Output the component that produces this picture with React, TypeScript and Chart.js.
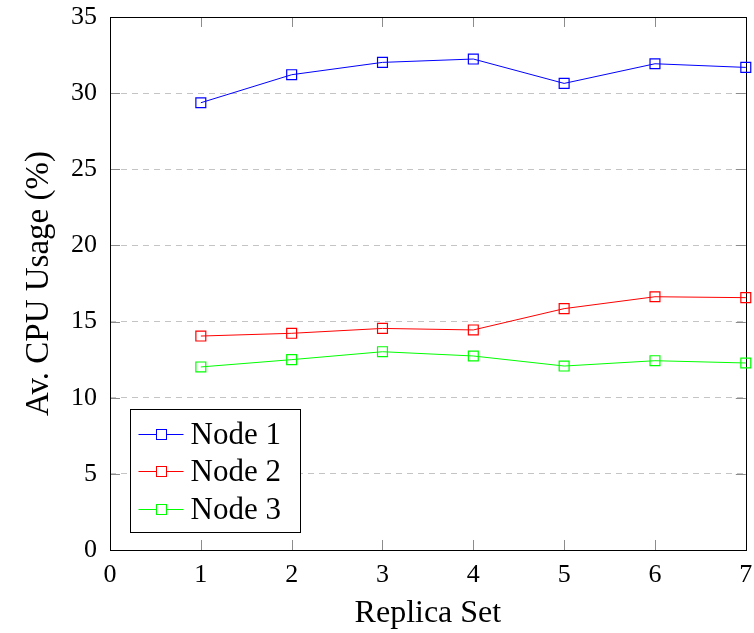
import React, { useEffect, useRef } from "react";
import { Chart, registerables } from "chart.js";

Chart.register(...registerables);

const replicaSets = [1, 2, 3, 4, 5, 6, 7];
const node1 = [29.37, 31.21, 32.02, 32.24, 30.64, 31.93, 31.69];
const node2 = [14.05, 14.23, 14.55, 14.45, 15.85, 16.63, 16.57];
const node3 = [12.02, 12.5, 13.02, 12.74, 12.08, 12.43, 12.28];
const seriesLabels = ["Node 1", "Node 2", "Node 3"];
const seriesColors = ["#0000ff", "#ff0000", "#00ff00"];
const xRange = [0, 7];
const yRange = [0, 35];
const xLabel = "Replica Set";
const yLabel = "Av. CPU Usage (%)";

const FONT = "'Liberation Serif', 'Times New Roman', serif";

const framePlugin = {
  id: "pgfFrame",
  beforeDatasetsDraw(chart: any) {
    const { ctx, chartArea } = chart;
    const { left, right, top, bottom } = chartArea;
    const xs = chart.scales.x;
    const ys = chart.scales.y;
    ctx.save();
    ctx.strokeStyle = "#8c8c8c";
    ctx.lineWidth = 1;
    ctx.setLineDash([]);
    const tl = 10;
    ctx.beginPath();
    xs.ticks.forEach((t: any) => {
      const px = Math.round(xs.getPixelForValue(t.value)) + 0.5;
      if (t.value === xs.min || t.value === xs.max) return;
      ctx.moveTo(px, bottom);
      ctx.lineTo(px, bottom - tl);
      ctx.moveTo(px, top);
      ctx.lineTo(px, top + tl);
    });
    ys.ticks.forEach((t: any) => {
      const py = Math.round(ys.getPixelForValue(t.value)) + 0.5;
      if (t.value === ys.min || t.value === ys.max) return;
      ctx.moveTo(left, py);
      ctx.lineTo(left + tl, py);
      ctx.moveTo(right, py);
      ctx.lineTo(right - tl, py);
    });
    ctx.stroke();
    ctx.strokeStyle = "#000";
    ctx.strokeRect(Math.round(left) + 0.5, Math.round(top) + 0.5, Math.round(right - left), Math.round(bottom - top));
    ctx.restore();
  },
  afterDatasetsDraw(chart: any) {
    const { ctx, chartArea } = chart;
    const bx = chartArea.left + 20.5;
    const by = chartArea.bottom - 140.5;
    const bw = 170;
    const bh = 123;
    ctx.save();
    ctx.setLineDash([]);
    ctx.fillStyle = "#fff";
    ctx.fillRect(bx, by, bw, bh);
    ctx.strokeStyle = "#000";
    ctx.lineWidth = 1;
    ctx.strokeRect(bx, by, bw, bh);
    chart.data.datasets.forEach((ds: any, i: number) => {
      const cy = Math.round(by + 24 + i * 37.5) + 0.5;
      ctx.strokeStyle = ds.borderColor;
      ctx.beginPath();
      ctx.moveTo(bx + 8, cy);
      ctx.lineTo(bx + 53, cy);
      ctx.stroke();
      ctx.fillStyle = "#fff";
      ctx.fillRect(bx + 26, cy - 5, 10, 10);
      ctx.strokeRect(bx + 26, cy - 5, 10, 10);
      ctx.fillStyle = "#000";
      ctx.font = `31px ${FONT}`;
      ctx.textBaseline = "middle";
      ctx.textAlign = "left";
      ctx.fillText(ds.label, bx + 60, cy + 1);
    });
    ctx.restore();
  },
};

export default function App() {
  const ref = useRef<HTMLCanvasElement>(null);
  useEffect(() => {
    document.body.style.margin = "0";
    const seriesValues = [node1, node2, node3];
    const chart = new Chart(ref.current!, {
      type: "line",
      data: {
        datasets: seriesValues.map((vals, i) => ({
          label: seriesLabels[i],
          data: replicaSets.map((x, j) => ({ x, y: vals[j] })),
          borderColor: seriesColors[i],
          backgroundColor: "rgba(255,255,255,0)",
          borderWidth: 1,
          pointStyle: "rect",
          pointRadius: 7,
          pointBorderWidth: 1.2,
          pointBackgroundColor: "rgba(255,255,255,0)",
          pointBorderColor: seriesColors[i],
          tension: 0,
          clip: false,
        })),
      },
      options: {
        animation: false,
        responsive: false,
        events: [],
        layout: { padding: { left: 0, right: 5, top: 17, bottom: 0 } },
        plugins: { legend: { display: false }, tooltip: { enabled: false } },
        scales: {
          x: {
            type: "linear",
            min: xRange[0],
            max: xRange[1],
            ticks: { stepSize: 1, color: "#000", font: { family: FONT, size: 26 }, padding: 10, maxRotation: 0 },
            grid: { display: false, drawTicks: false },
            border: { display: false },
            title: { display: true, text: xLabel, color: "#000", font: { family: FONT, size: 32 }, padding: { top: 0, bottom: 0 } },
            afterFit(scale: any) {
              scale.height = 83;
              scale.paddingLeft = 0;
              scale.paddingRight = 0;
            },
          },
          y: {
            type: "linear",
            min: yRange[0],
            max: yRange[1],
            ticks: { stepSize: 5, color: "#000", font: { family: FONT, size: 26 }, padding: 13 },
            grid: {
              drawTicks: false,
              color: (c: any) => (c.tick && (c.tick.value === 0 || c.tick.value === 35) ? "rgba(0,0,0,0)" : "#c4c4c4"),
              lineWidth: 1,
            },
            border: { display: false, dash: [6, 5] },
            title: { display: true, text: yLabel, color: "#000", font: { family: FONT, size: 33 }, padding: { top: 20, bottom: 0 } },
            afterFit(scale: any) {
              scale.width = 110;
              scale.paddingTop = 0;
              scale.paddingBottom = 0;
            },
          },
        },
      },
      plugins: [framePlugin],
    } as any);
    return () => chart.destroy();
  }, []);
  return (
    <div style={{ position: "absolute", left: 0, top: 0, width: 754, height: 633 }}>
      <canvas ref={ref} width={754} height={633} />
    </div>
  );
}
